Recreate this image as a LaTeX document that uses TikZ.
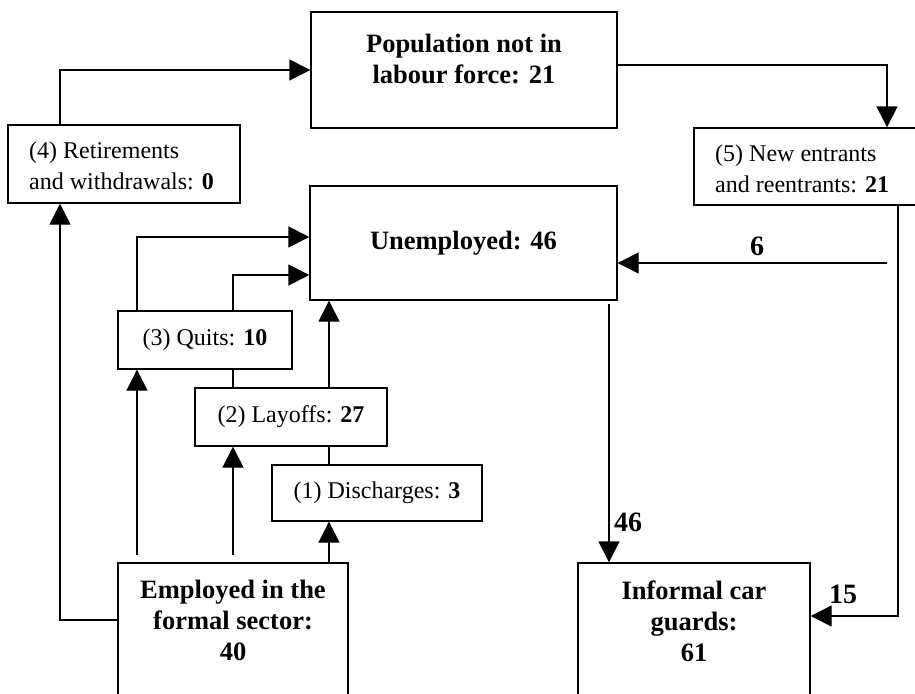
\documentclass[tikz,border=0pt]{standalone}
\usepackage{fontspec}
\setmainfont{Liberation Serif}
\usetikzlibrary{arrows.meta,backgrounds}
\begin{document}
\begin{tikzpicture}[x=1pt,y=-1pt,box/.style={draw,line width=1.4pt,fill=white,inner sep=0pt},txt/.style={font=\fontsize{24}{31}\selectfont,inner sep=0pt},head/.style={font=\fontsize{26.5}{31}\selectfont\bfseries,align=center,inner sep=0pt},flowlbl/.style={font=\fontsize{28}{30}\selectfont\bfseries,inner sep=0pt},flow/.style={line width=1.4pt,-{Triangle[length=21pt,width=21pt]}}]
    \useasboundingbox (0,0) rectangle (915,693);
    \clip (0,0) rectangle (915,693);
    % stocks
    \node[box,minimum width=306pt,minimum height=116pt] (pop) at (464,70) {};
    \node[head,anchor=north] (poptxt) at (464,34) {Population not in\\labour force: 21};
    \node[box,head,minimum width=307pt,minimum height=114pt] (unemp) at (463.5,243) {Unemployed: 46};
    \node[box,minimum width=230pt,minimum height=154pt] (empl) at (233,640) {};
    \node[head,anchor=north] (empltxt) at (233,580) {Employed in the\\formal sector:\\40};
    \node[box,minimum width=232pt,minimum height=154pt] (infor) at (694,640) {};
    \node[head,anchor=north] (infortxt) at (694,581) {Informal car\\guards:\\61};
    % flows
    \node[box,minimum width=232pt,minimum height=78pt] (ret) at (124,164) {};
    \node[txt,align=left,anchor=north west] (rettxt) at (29,141.5) {(4) Retirements\\and withdrawals: \textbf{0}};
    \node[box,minimum width=224pt,minimum height=77pt] (newent) at (806,166.5) {};
    \node[txt,align=left,anchor=north west] (newtxt) at (715,144.5) {(5) New entrants\\and reentrants: \textbf{21}};
    \node[box,txt,minimum width=174pt,minimum height=58pt] (quits) at (205,340) {(3) Quits: \textbf{10}};
    \node[box,txt,minimum width=192pt,minimum height=58pt] (layoffs) at (291,417) {(2) Layoffs: \textbf{27}};
    \node[box,txt,minimum width=210pt,minimum height=56pt] (disch) at (377,493) {(1) Discharges: \textbf{3}};
    \coordinate (lx) at (60,620);
    \coordinate (rx) at (898,616);
    \coordinate (c6) at (887,263);
    \begin{scope}[on background layer]
        \draw[flow] (empl.west |- lx) -- (lx) -- (lx |- ret.south);
        \draw[flow] (lx |- ret.north) |- (pop.west);
        \draw[flow] ([yshift=5pt]pop.east) -| ([xshift=81pt]newent.north);
        \draw[flow] (rx |- newent.south) -- (rx) -- (rx -| infor.east);
        \draw[flow] (c6) -- (c6 -| unemp.east);
        \draw[flow,shorten <=3pt] ([xshift=145.5pt]unemp.south) -- ([xshift=145.5pt]unemp.south |- infor.north);
        \draw[flow] ([xshift=-68pt]quits.north) |- ([yshift=6pt]unemp.west);
        \draw[flow] ([xshift=-58pt]layoffs.north) |- ([yshift=-32pt]unemp.west);
        \draw[flow] ([xshift=-48pt]disch.north) -- ([xshift=-48pt]disch.north |- unemp.south);
        \draw[flow,shorten <=7pt] ([xshift=-68pt]quits.south |- empl.north) -- ([xshift=-68pt]quits.south);
        \draw[flow,shorten <=7pt] ([xshift=-58pt]layoffs.south |- empl.north) -- ([xshift=-58pt]layoffs.south);
        \draw[flow] ([xshift=-48pt]disch.south |- empl.north) -- ([xshift=-48pt]disch.south);
    \end{scope}
    \node[flowlbl,anchor=base] (lbl6) at (757,255) {6};
    \node[flowlbl,anchor=base west] (lbl46) at (614,531) {46};
    \node[flowlbl,anchor=base west] (lbl15) at (829,603) {15};
    %\node[flowlbl] at (c6) {};
\end{tikzpicture}
\end{document}
